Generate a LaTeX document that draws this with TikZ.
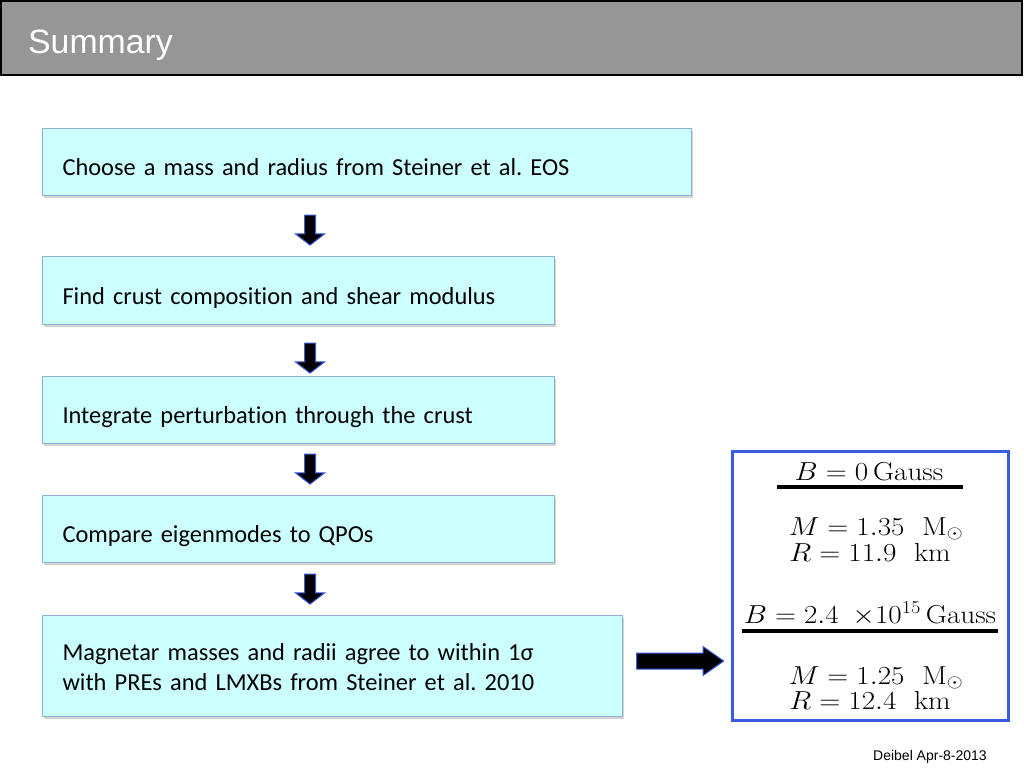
\RequirePackage{fix-cm}
\documentclass[tikz,border=0pt]{standalone}
\usepackage{graphicx}
\usepackage{fontspec}
\newfontfamily\calfont[Ligatures=NoCommon]{Carlito}
\newfontfamily\helvfont{Liberation Sans}
\usetikzlibrary{calc,shapes.arrows,shadows}
\definecolor{boxfill}{HTML}{CCFFFF}
\definecolor{boxline}{HTML}{8EAFD6}
\definecolor{barfill}{HTML}{969696}
\definecolor{frameblue}{HTML}{3A5CE0}
\newcommand{\widemath}[1]{\scalebox{1.12}[1]{$#1$}}

\begin{document}
\begin{tikzpicture}[x=1pt,y=-1pt,
  stepbox/.style={draw=boxline, fill=boxfill, line width=1pt, anchor=north west,
    drop shadow={opacity=0.35, shadow xshift=1.5pt, shadow yshift=-2pt},
    inner xsep=20pt, align=left, text height=27pt, text depth=0pt,
    font=\calfont\frenchspacing\fontsize{24.4}{30}\selectfont},
  downarr/.style={single arrow, rotate=-90, fill=black, draw=frameblue, line width=1pt,
    inner sep=5pt, minimum height=30pt, single arrow head extend=9pt,
    single arrow tip angle=105},
  mathline/.style={anchor=base, inner sep=0pt, font=\fontsize{26}{30}\selectfont},
  rule/.style={line width=3.5pt}]
\useasboundingbox (0,0) rectangle (1024,768);

% title bar
\draw[fill=barfill, line width=2pt] (1,1) rectangle (1022,75);
\node[anchor=base west, inner sep=0pt, text=white, font=\helvfont\fontsize{33.8}{40}\selectfont] (title) at (28,54) {Summary};

% steps
\node[stepbox, minimum width=649pt, minimum height=67pt, text width=609pt] (choose) at (42,128) {Choose a mass and radius from Steiner et al. EOS};
\node[stepbox, minimum width=512pt, minimum height=68pt, text width=472pt] (crust) at (42,256) {Find crust composition and shear modulus};
\node[stepbox, minimum width=512pt, minimum height=67pt, text width=472pt] (integ) at (42,376) {Integrate perturbation through the crust};
\node[stepbox, minimum width=512pt, minimum height=67pt, text width=472pt] (comp) at (42,495) {Compare eigenmodes to QPOs};
\node[stepbox, minimum width=580pt, minimum height=101pt, text width=540pt, text depth=38pt] (agree) at (42,615)
  {Magnetar masses and radii agree to within 1σ\\with PREs and LMXBs from Steiner et al. 2010};

\node[downarr] (a1) at (310,228) {};
\node[downarr] (a2) at (310,356) {};
\node[downarr] (a3) at (310,467) {};
\node[downarr] (a4) at (310,587) {};
\node[single arrow, fill=black, draw=frameblue, line width=1pt, inner sep=7.5pt,
  minimum height=87pt, single arrow head extend=6.5pt, single arrow tip angle=70] (a5) at (674.5,661) {};

% results
\draw[draw=frameblue, line width=3pt] (732,451) rectangle node (res) {} (1008,720);
\node[mathline] (bzero) at (869,480) {\widemath{B = 0\,\mathrm{Gauss}}};
\draw[rule] ($(bzero.base west)+(-17,7)$) -- ($(bzero.base east)+(19,7)$);
\node[mathline] (mone) at (876,535) {\widemath{M = 1.35~~\mathrm{M}_\odot}};
\node[mathline] (rone) at (870,561) {\widemath{R = 11.9~~\mathrm{km}}};
\node[mathline] (bmag) at (870,623) {\widemath{B = 2.4~\,{\times}10^{15}\,\mathrm{Gauss}}};
\draw[rule] ($(bmag.base west)+(-2,8)$) -- ($(bmag.base east)+(2,8)$);
\node[mathline] (mtwo) at (876,684) {\widemath{M = 1.25~~\mathrm{M}_\odot}};
\node[mathline] (rtwo) at (870,709) {\widemath{R = 12.4~~\mathrm{km}}};

\node[anchor=base east, inner sep=0pt, font=\helvfont\fontsize{14}{16}\selectfont] (foot) at (987,760) {Deibel Apr-8-2013};
\end{tikzpicture}
\end{document}
